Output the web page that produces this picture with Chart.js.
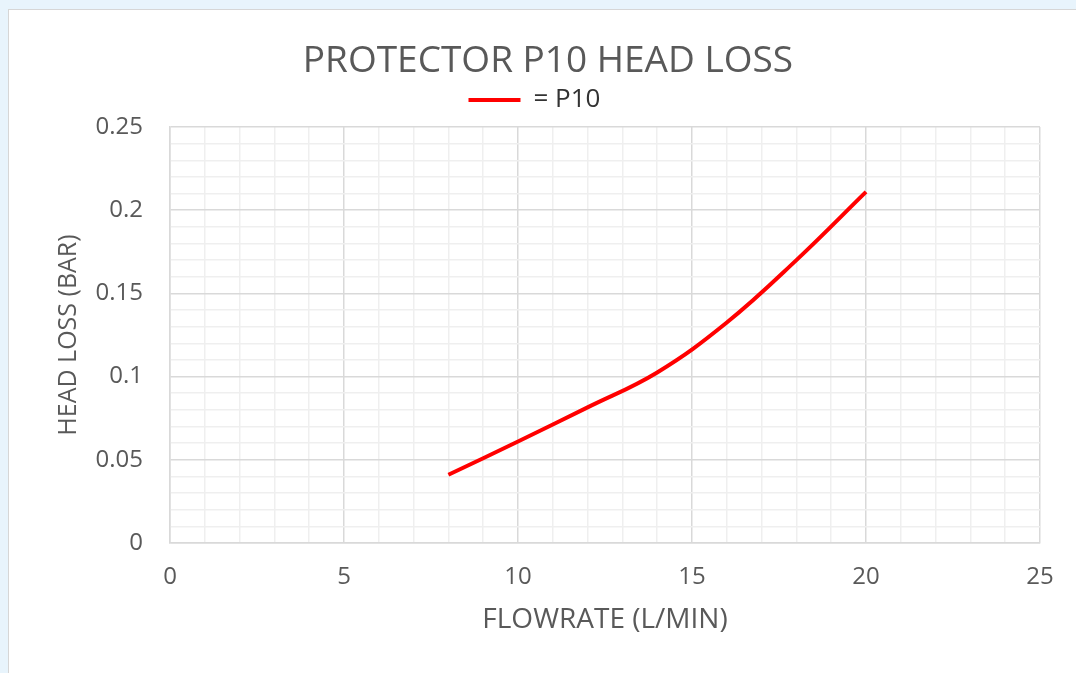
<!DOCTYPE html>
<html>
<head>
<meta charset="utf-8">
<script src="https://cdn.jsdelivr.net/npm/chart.js@4"></script>
<style>
  body { margin: 0; background: #e8f4fc; width: 1076px; height: 673px; overflow: hidden; position: relative; }
  #card { position: absolute; left: 8px; top: 9px; width: 1100px; height: 700px; background: #fff; border: 1px solid #d6d6d6; }
  #myChart { position: absolute; left: 0; top: 0; }
</style>
</head>
<body>
<div id="card"></div>
<canvas id="myChart" width="1076" height="673"></canvas>
<script>
// values
var flowRates = [8, 10, 12, 14, 16, 18, 20];
var headLoss = [0.041, 0.061, 0.0815, 0.1025, 0.1325, 0.17, 0.211];
var xTickLabels = [0, 5, 10, 15, 20, 25];
var yTickLabels = [0, 0.05, 0.1, 0.15, 0.2, 0.25];

var points = [];
for (var i = 0; i < flowRates.length; i++){
    points.push({x: flowRates[i], y: headLoss[i]});
}

var grey = '#595959';
var font = 'Open Sans';

function isXMajor(v){ return xTickLabels.indexOf(Math.round(v)) >= 0 && Math.abs(v - Math.round(v)) < 1e-6; }
function isYMajor(v){
    for (var i = 0; i < yTickLabels.length; i++){
        if (Math.abs(yTickLabels[i] - v) < 1e-6) return true;
    }
    return false;
}

var ctx = document.getElementById('myChart').getContext('2d');
var chart = new Chart(ctx, {
    type: 'line',
    data: {
        datasets: [{
            label: '= P10    ',
            data: points,
            borderColor: '#ff0000',
            backgroundColor: '#ff0000',
            borderWidth: 4,
            pointRadius: 0,
            pointStyle: 'line',
            tension: 0.4,
            fill: false
        }]
    },
    options: {
        responsive: false,
        animation: false,
        layout: { padding: { left: 56, right: 36, top: 0, bottom: 0 } },
        plugins: {
            title: {
                display: true,
                text: 'PROTECTOR P10 HEAD LOSS',
                color: grey,
                font: { family: font, size: 37, weight: 'normal' },
                padding: { top: 39.5, bottom: 0 }
            },
            // empty spacer between legend and plot
            subtitle: {
                display: true,
                text: '',
                weight: 500,
                font: { size: 4.1, lineHeight: 1 },
                padding: 0
            },
            legend: {
                display: true,
                labels: {
                    usePointStyle: true,
                    pointStyle: 'line',
                    pointStyleWidth: 52,
                    color: '#333333',
                    padding: 3,
                    font: { family: font, size: 26 }
                }
            },
            tooltip: { enabled: false }
        },
        scales: {
            x: {
                type: 'linear',
                min: 0,
                max: 25,
                afterFit: function(scale){ scale.height = 130; },
                ticks: {
                    stepSize: 1,
                    autoSkip: false,
                    maxTicksLimit: 40,
                    maxRotation: 0,
                    padding: 20,
                    color: grey,
                    font: { family: font, size: 24 },
                    callback: function(v){ return isXMajor(v) ? String(v) : ''; }
                },
                grid: {
                    drawTicks: false,
                    color: function(c){ return isXMajor(c.tick.value) ? '#d9d9d9' : '#efefef'; },
                    lineWidth: 1.5
                },
                border: { color: '#d9d9d9', width: 1.5 },
                title: {
                    display: true,
                    text: 'FLOWRATE (L/MIN)',
                    color: grey,
                    font: { family: font, size: 28 },
                    padding: { top: 0, bottom: 36 }
                }
            },
            y: {
                min: 0,
                max: 0.25,
                afterFit: function(scale){ scale.width = 114; },
                ticks: {
                    stepSize: 0.01,
                    autoSkip: false,
                    maxTicksLimit: 40,
                    padding: 27,
                    color: grey,
                    font: { family: font, size: 24 },
                    callback: function(v){ return isYMajor(v) ? String(Math.round(v * 100) / 100) : ''; }
                },
                grid: {
                    drawTicks: false,
                    color: function(c){ return isYMajor(c.tick.value) ? '#d9d9d9' : '#efefef'; },
                    lineWidth: 1.5
                },
                border: { color: '#d9d9d9', width: 1.5 },
                title: {
                    display: true,
                    text: 'HEAD LOSS (BAR)',
                    color: grey,
                    font: { family: font, size: 25 },
                    padding: { top: -2, bottom: 0 }
                }
            }
        }
    }
});
</script>
</body>
</html>
